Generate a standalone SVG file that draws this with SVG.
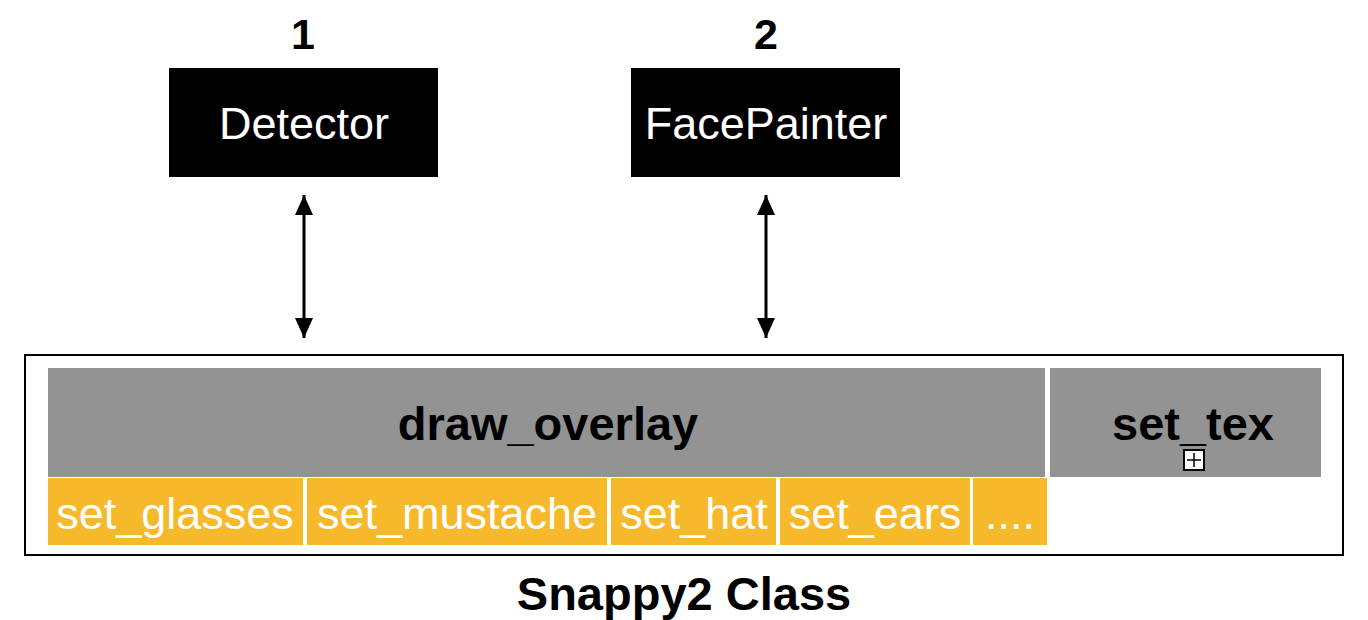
<svg xmlns="http://www.w3.org/2000/svg" width="1368" height="620" viewBox="0 0 1368 620">
<style>
.reg{font-family:"Liberation Sans",Arial,sans-serif;font-size:45px}
.bold{font-family:"Liberation Sans",Arial,sans-serif;font-size:47px;font-weight:bold}
.wt{fill:#fff}
.gray{fill:#939393}
.yel{fill:#f7b92c}
</style>
<defs>
<marker id="ah" viewBox="0 0 20 20" refX="20" refY="10" markerWidth="20" markerHeight="20" markerUnits="userSpaceOnUse" orient="auto-start-reverse">
<path d="M0,1 L20,10 L0,19 Z" fill="#000"/>
</marker>
</defs>
<rect width="1368" height="620" fill="#fff"/>
<g id="label1"><text x="303" y="49" class="bold" text-anchor="middle" style="font-size:43px">1</text></g>
<g id="label2"><text x="766" y="49" class="bold" text-anchor="middle" style="font-size:43px">2</text></g>
<g id="detector">
<rect x="169" y="68" width="269" height="109" fill="#000"/>
<text x="304" y="139" class="reg wt" text-anchor="middle">Detector</text>
</g>
<g id="facepainter">
<rect x="631" y="68" width="269" height="109" fill="#000"/>
<text x="766" y="139" class="reg wt" text-anchor="middle">FacePainter</text>
</g>
<g id="connectors" stroke="#000" stroke-width="3" fill="none">
<line x1="304" y1="195" x2="304" y2="338" marker-start="url(#ah)" marker-end="url(#ah)"/>
<line x1="766" y1="195" x2="766" y2="338" marker-start="url(#ah)" marker-end="url(#ah)"/>
</g>
<g id="snappy2">
<rect x="25" y="355" width="1318" height="200" fill="none" stroke="#000" stroke-width="2"/>
<text x="684" y="610" class="bold" text-anchor="middle">Snappy2 Class</text>
</g>
<g id="draw_overlay">
<rect x="48" y="368" width="997" height="109" class="gray"/>
<text x="548" y="440" class="bold" text-anchor="middle">draw_overlay</text>
</g>
<g id="set_tex">
<rect x="1050" y="368" width="271" height="109" class="gray"/>
<text x="1193" y="440" class="bold" text-anchor="middle">set_tex</text>
<line x1="1182" y1="445" x2="1205" y2="445" stroke="#000" stroke-width="2"/>
<rect x="1184" y="450" width="20" height="20" fill="#fff" stroke="#000" stroke-width="2"/>
<path d="M1194,453 V467 M1187,460 H1201" stroke="#000" stroke-width="1.5"/>
</g>
<g id="set_glasses">
<rect x="48" y="478" width="255" height="67" class="yel"/>
<text x="175" y="529" class="reg wt" text-anchor="middle">set_glasses</text>
</g>
<g id="set_mustache">
<rect x="307" y="478" width="300" height="67" class="yel"/>
<text x="457" y="529" class="reg wt" text-anchor="middle">set_mustache</text>
</g>
<g id="set_hat">
<rect x="611" y="478" width="165" height="67" class="yel"/>
<text x="694" y="529" class="reg wt" text-anchor="middle">set_hat</text>
</g>
<g id="set_ears">
<rect x="780" y="478" width="190" height="67" class="yel"/>
<text x="875" y="529" class="reg wt" text-anchor="middle">set_ears</text>
</g>
<g id="more">
<rect x="973" y="478" width="74" height="67" class="yel"/>
<text x="1010" y="529" class="reg wt" text-anchor="middle">....</text>
</g>
</svg>
